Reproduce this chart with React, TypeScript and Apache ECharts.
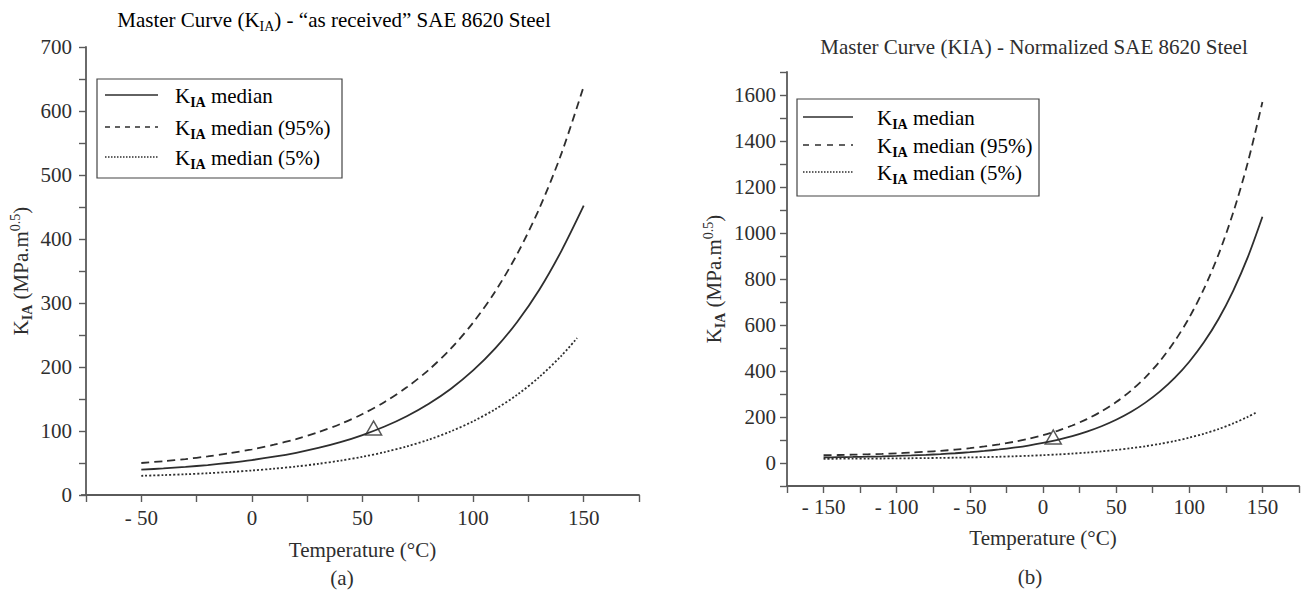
import React, { useEffect, useRef } from "react";
import * as echarts from "echarts";

// ---------- Data: chart (a) "as received" ----------
const tempsA = [-50, -40, -30, -20, -10, 0, 10, 20, 30, 40, 50, 60, 70, 80, 90, 100, 110, 120, 130, 140, 150];
const medianA = [39.5, 41.5, 43.9, 46.8, 50.4, 54.6, 59.8, 66.0, 73.5, 82.6, 93.7, 107.0, 123.1, 142.6, 166.1, 194.6, 229.0, 270.7, 321.1, 381.9, 452];
const upperA = [50.0, 52.8, 56.2, 60.3, 65.3, 71.3, 78.6, 87.4, 98.1, 110.9, 126.5, 145.4, 168.2, 195.7, 229.0, 269.3, 318.0, 376.9, 448.1, 534.2, 638.4];
const tempsALow = [-50, -40, -30, -20, -10, 0, 10, 20, 30, 40, 50, 60, 70, 80, 90, 100, 110, 120, 130, 140, 147];
const lowerA = [30.0, 31.1, 32.4, 34.0, 36.0, 38.3, 41.1, 44.5, 48.7, 53.7, 59.7, 67.0, 75.9, 86.5, 99.5, 115.1, 134.0, 156.8, 184.5, 217.9, 245.3];
const refPointA = [55, 100];

// ---------- Data: chart (b) normalized ----------
const tempsB = [-150, -140, -130, -120, -110, -100, -90, -80, -70, -60, -50, -40, -30, -20, -10, 0, 10, 20, 30, 40, 50, 60, 70, 80, 90, 100, 110, 120, 130, 140, 150];
const medianB = [24.3, 25.2, 26.2, 27.4, 28.9, 30.7, 32.9, 35.5, 38.6, 42.4, 46.9, 52.3, 58.8, 66.6, 75.9, 87.2, 100.7, 116.9, 136.5, 159.9, 188.0, 221.7, 262.5, 311.2, 369.7, 440.3, 524.7, 626.0, 748.5, 894.9, 1070.5];
const upperB = [33.6, 34.7, 36.1, 37.8, 39.8, 42.3, 45.2, 48.8, 53.0, 58.2, 64.4, 71.9, 81.0, 91.9, 105.1, 120.9, 140.0, 163.0, 191.0, 224.5, 264.9, 313.9, 372.6, 443.5, 529.4, 632.6, 756.9, 906.8, 1088.5, 1306.5, 1569.6];
const tempsBLow = [-150, -140, -130, -120, -110, -100, -90, -80, -70, -60, -50, -40, -30, -20, -10, 0, 10, 20, 30, 40, 50, 60, 70, 80, 90, 100, 110, 120, 130, 140, 146];
const lowerB = [18.3, 18.6, 18.9, 19.2, 19.6, 20.1, 20.7, 21.4, 22.2, 23.1, 24.3, 25.6, 27.2, 29.1, 31.3, 34.0, 37.2, 40.9, 45.3, 50.6, 56.8, 64.1, 72.9, 83.2, 95.5, 110.1, 127.3, 147.7, 172.0, 200.7, 220.4];
const refPointB = [7, 100];

const legendNames = ["median", "median (95%)", "median (5%)"];
const titleA = "Master Curve (";
const titleATail = ") - \u201Cas received\u201D SAE 8620 Steel";
const titleB = "Master Curve (KIA) - Normalized SAE 8620 Steel";
const xName = "Temperature (\u00B0C)";

const FONT = "'Liberation Serif', 'Times New Roman', serif";
const INK = "#2e2e2e";
const AXIS = "#5a5a5a";
const FS = 21;
const SUB = 14;

const pairs = (xs: number[], ys: number[]) => xs.map((x, i) => [x, ys[i]]);
const tempLabel = (v: number) => (v % 50 === 0 ? (v < 0 ? "- " + Math.abs(v) : String(v)) : "");

const richBase = {
  k: { fontSize: FS, fontFamily: FONT, color: INK },
  s: { fontSize: SUB, fontFamily: FONT, color: INK, fontWeight: "bold", padding: [12, 0, 0, 0] },
  t: { fontSize: FS, fontFamily: FONT, color: INK },
  p: { fontSize: SUB, fontFamily: FONT, color: INK, padding: [0, 0, 12, 0] },
};

function legendGroup(x: number, y: number, w: number, h: number, rows: number[], lx0: number, lx1: number, tx: number, dashes: any[]) {
  const children: any[] = [
    { type: "rect", shape: { x, y, width: w, height: h }, style: { fill: "#fff", stroke: "#444", lineWidth: 1.2 } },
  ];
  rows.forEach((ry, i) => {
    children.push({
      type: "line",
      shape: { x1: lx0, y1: ry, x2: lx1, y2: ry },
      style: { stroke: INK, lineWidth: 1.6, lineDash: dashes[i] },
    });
    children.push({
      type: "text",
      x: tx,
      y: ry + 1,
      style: {
        text: "{k|K}{s|IA}{t| " + legendNames[i] + "}",
        rich: richBase,
        verticalAlign: "middle",
        align: "left",
      },
    });
  });
  return { type: "group", children };
}

function axisCommon(grid: number) {
  return {
    gridIndex: grid,
    type: "value" as const,
    splitLine: { show: false },
    axisLine: { show: true, onZero: false, lineStyle: { color: AXIS, width: 1.8 } },
    axisTick: { show: true, length: 7, lineStyle: { color: AXIS, width: 1.4 } },
  };
}

const labelStyle = { fontSize: FS, fontFamily: FONT, color: INK };

export default function App() {
  const ref = useRef<HTMLDivElement>(null);
  useEffect(() => {
    document.body.style.margin = "0";
    const chart = echarts.init(ref.current!, null, { renderer: "svg" });
    const lineSeries = (name: string, data: any[], axis: number, type: any) => ({
      name,
      type: "line",
      xAxisIndex: axis,
      yAxisIndex: axis,
      data,
      showSymbol: false,
      smooth: 0.3,
      lineStyle: { color: INK, width: 1.8, type },
      z: 3,
    });
    const yName = "{k|K}{s|IA}{t| (MPa.m}{p|0.5}{t|)}";
    chart.setOption({
      animation: false,
      backgroundColor: "#fff",
      grid: [
        { left: 86, top: 47, width: 553, height: 448 },
        { left: 787, top: 72, width: 513, height: 414 },
      ],
      xAxis: [
        {
          ...axisCommon(0),
          min: -75,
          max: 175,
          interval: 25,
          axisLabel: { formatter: tempLabel, ...labelStyle, margin: 12 },
          name: xName,
          nameLocation: "middle",
          nameGap: 44,
          nameTextStyle: labelStyle,
        },
        {
          ...axisCommon(1),
          min: -175,
          max: 175,
          interval: 25,
          axisLabel: { formatter: tempLabel, ...labelStyle, margin: 10 },
          name: xName,
          nameLocation: "middle",
          nameGap: 41,
          nameTextStyle: labelStyle,
        },
      ],
      yAxis: [
        {
          ...axisCommon(0),
          min: 0,
          max: 700,
          interval: 50,
          axisLabel: { formatter: (v: number) => (v % 100 === 0 ? String(v) : ""), ...labelStyle, margin: 14 },
          name: yName,
          nameLocation: "middle",
          nameRotate: 90,
          nameGap: 52,
          nameTextStyle: { rich: richBase },
        },
        {
          ...axisCommon(1),
          min: -100,
          max: 1700,
          interval: 100,
          axisLabel: {
            formatter: (v: number) => (v % 200 === 0 && v >= 0 && v <= 1600 ? String(v) : ""),
            ...labelStyle,
            margin: 11,
          },
          name: yName,
          nameLocation: "middle",
          nameRotate: 90,
          nameGap: 60,
          nameTextStyle: { rich: richBase },
        },
      ],
      series: [
        lineSeries("median", pairs(tempsA, medianA), 0, "solid"),
        lineSeries("median (95%)", pairs(tempsA, upperA), 0, [8, 5]),
        lineSeries("median (5%)", pairs(tempsALow, lowerA), 0, [2, 2]),
        lineSeries("median", pairs(tempsB, medianB), 1, "solid"),
        lineSeries("median (95%)", pairs(tempsB, upperB), 1, [8, 5]),
        lineSeries("median (5%)", pairs(tempsBLow, lowerB), 1, [2, 2]),
        {
          type: "scatter",
          xAxisIndex: 0,
          yAxisIndex: 0,
          data: [refPointA],
          symbol: "triangle",
          symbolSize: [16, 14],
          symbolOffset: [0, -3],
          itemStyle: { color: "rgba(0,0,0,0)", borderColor: INK, borderWidth: 1.5 },
          z: 5,
        },
        {
          type: "scatter",
          xAxisIndex: 1,
          yAxisIndex: 1,
          data: [refPointB],
          symbol: "triangle",
          symbolSize: [16, 14],
          symbolOffset: [0, -3],
          itemStyle: { color: "rgba(0,0,0,0)", borderColor: INK, borderWidth: 1.5 },
          z: 5,
        },
      ],
      graphic: [
        {
          type: "text",
          x: 334,
          y: 20,
          style: {
            text: "{t|" + titleA + "}{k|K}{s|IA}{t|" + titleATail + "}",
            rich: {
              t: { fontSize: FS, fontFamily: FONT, color: INK },
              k: { fontSize: FS, fontFamily: FONT, color: INK },
              s: { fontSize: SUB, fontFamily: FONT, color: INK, padding: [12, 0, 0, 0] },
            },
            align: "center",
            verticalAlign: "middle",
          },
        },
        {
          type: "text",
          x: 1034,
          y: 47,
          style: { text: titleB, fontSize: FS, fontFamily: FONT, fill: INK, align: "center", verticalAlign: "middle" },
        },
        {
          type: "text",
          x: 342,
          y: 578,
          style: { text: "(a)", fontSize: FS, fontFamily: FONT, fill: INK, align: "center", verticalAlign: "middle" },
        },
        {
          type: "text",
          x: 1030,
          y: 577,
          style: { text: "(b)", fontSize: FS, fontFamily: FONT, fill: INK, align: "center", verticalAlign: "middle" },
        },
        {
          type: "line",
          shape: { x1: 81, y1: 495, x2: 87, y2: 495 },
          style: { stroke: AXIS, lineWidth: 1.8 },
        },
        legendGroup(97, 79, 245, 99, [95, 127, 157], 105, 158, 175, [null, [5, 5], [1.5, 1.5]]),
        legendGroup(797, 99, 242, 97, [117, 145, 172], 803, 853, 877, [null, [6, 6], [1.5, 1.5]]),
      ],
    });
    return () => chart.dispose();
  }, []);
  return <div ref={ref} style={{ width: 1302, height: 592 }} />;
}
